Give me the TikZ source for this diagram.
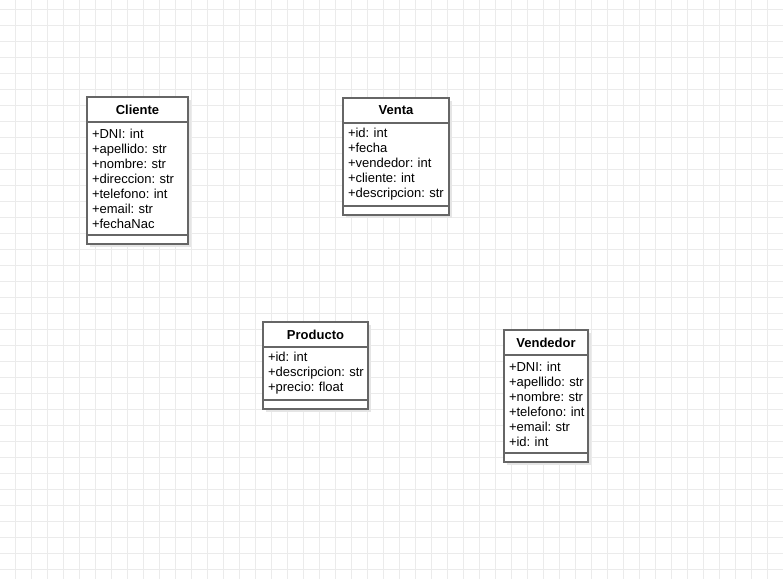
\documentclass[tikz,border=0pt]{standalone}
\usepackage{fontspec}
\setmainfont{Liberation Sans}
\usetikzlibrary{positioning, shadows}

\begin{document}
\begin{tikzpicture}[x=1pt, y=-1pt,
    gridline/.style={draw=black!8, line width=1pt},
    umlpart/.style={draw=black!60, line width=1.8pt, fill=white, outer sep=0pt, inner xsep=5pt, inner ysep=0pt,
        drop shadow={fill=black!10, opacity=1, shadow xshift=3pt, shadow yshift=-3pt}},
    umlhead/.style={umlpart, minimum height=25pt, anchor=north west, font=\fontsize{13}{15}\selectfont\bfseries},
    umlattrs/.style={umlpart, align=left, font=\fontsize{13}{15}\selectfont\frenchspacing},
    umlops/.style={umlpart, minimum height=9pt}]

    \useasboundingbox (0,0) rectangle (783,579);
    \fill[white] (0,0) rectangle (783,579);

    % Grid
    \foreach \x in {15,31,...,783}
        \draw[gridline] (\x,0) -- (\x,579);
    \foreach \y in {9,25,...,579}
        \draw[gridline] (0,\y) -- (783,\y);

    % Cliente
    \node[umlhead, minimum width=101pt] (cliente) at (87,97) {Cliente};
    \node[umlattrs, text width=91pt, minimum height=113pt, below=0pt of cliente] (cliente-attrs) {
        +DNI:~int\\ +apellido:~str\\ +nombre:~str\\ +direccion:~str\\
        +telefono:~int\\ +email:~str\\ +fechaNac};
    \node[umlops, minimum width=101pt, below=0pt of cliente-attrs] (cliente-ops) {};

    % Venta
    \node[umlhead, minimum width=106pt] (venta) at (343,98) {Venta};
    \node[umlattrs, text width=96pt, minimum height=83pt, below=0pt of venta] (venta-attrs) {
        +id:~int\\ +fecha\\ +vendedor:~int\\ +cliente:~int\\ +descripcion:~str};
    \node[umlops, minimum width=106pt, below=0pt of venta-attrs] (venta-ops) {};

    % Producto
    \node[umlhead, minimum width=105pt] (producto) at (263,322) {Producto};
    \node[umlattrs, text width=95pt, minimum height=53pt, below=0pt of producto] (producto-attrs) {
        +id:~int\\ +descripcion:~str\\ +precio:~float};
    \node[umlops, minimum width=105pt, below=0pt of producto-attrs] (producto-ops) {};

    % Vendedor
    \node[umlhead, minimum width=84pt] (vendedor) at (504,330) {Vendedor};
    \node[umlattrs, text width=74pt, minimum height=98pt, below=0pt of vendedor] (vendedor-attrs) {
        +DNI:~int\\ +apellido:~str\\ +nombre:~str\\ +telefono:~int\\ +email:~str\\ +id:~int};
    \node[umlops, minimum width=84pt, below=0pt of vendedor-attrs] (vendedor-ops) {};
\end{tikzpicture}
\end{document}
